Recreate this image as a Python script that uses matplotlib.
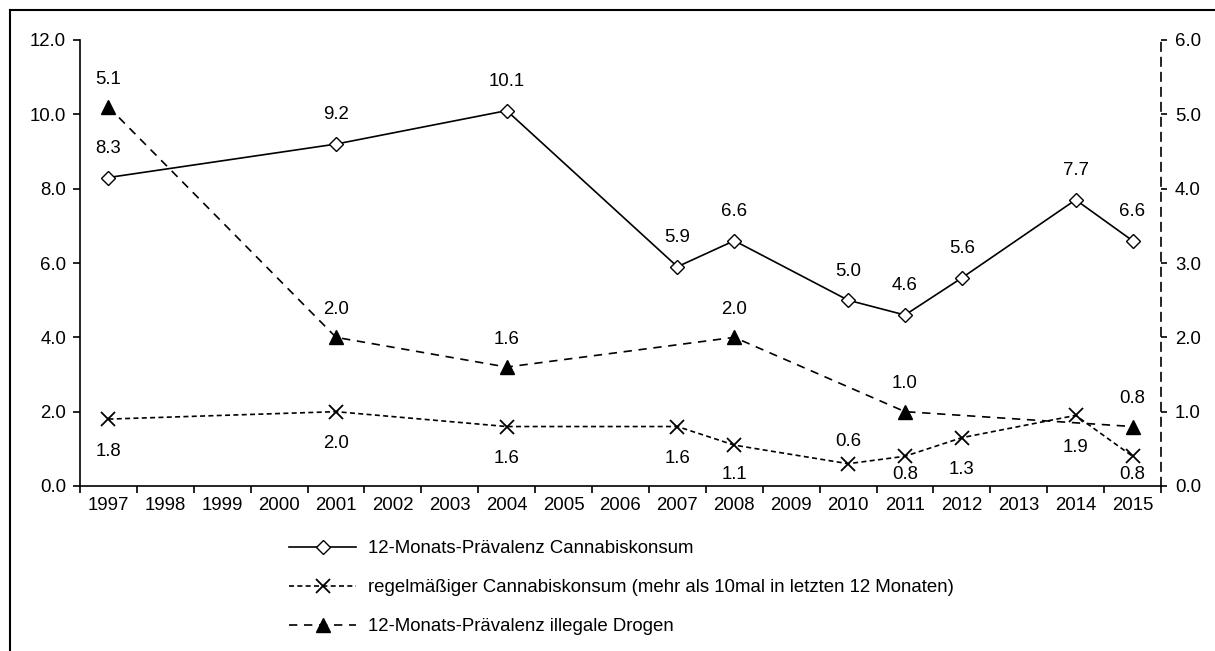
import matplotlib
matplotlib.use("Agg")
import matplotlib.pyplot as plt
from matplotlib.lines import Line2D

plt.rcParams['font.family'] = ['Liberation Sans', 'DejaVu Sans']

# ───────── Data ─────────────────────────────────────────────────────
years = [str(y) for y in range(1997, 2016)]

cannabis_years  = [1997, 2001, 2004, 2007, 2008, 2010, 2011, 2012, 2014, 2015]
cannabis_values = [8.3, 9.2, 10.1, 5.9, 6.6, 5.0, 4.6, 5.6, 7.7, 6.6]

regular_years  = [1997, 2001, 2004, 2007, 2008, 2010, 2011, 2012, 2014, 2015]
regular_values = [1.8, 2.0, 1.6, 1.6, 1.1, 0.6, 0.8, 1.3, 1.9, 0.8]

drugs_years  = [1997, 2001, 2004, 2008, 2011, 2015]
drugs_values = [5.1, 2.0, 1.6, 2.0, 1.0, 0.8]

labels = [
    '12-Monats-Prävalenz Cannabiskonsum',
    'regelmäßiger Cannabiskonsum (mehr als 10mal in letzten 12 Monaten)',
    '12-Monats-Prävalenz illegale Drogen',
]

# ───────── Plot settings ────────────────────────────────────────────
FS = 13.4
W, H = 1215, 651


def xpos(yrs):
    return [years.index(str(y)) for y in yrs]


fig = plt.figure(figsize=(W / 100, H / 100), dpi=100)
ax = fig.add_axes([80 / W, 1 - 486 / H, (1161 - 80) / W, (486 - 40) / H])
ax2 = ax.twinx()

l1, = ax.plot(xpos(cannabis_years), cannabis_values, '-', color='black', lw=1.2,
              marker='D', ms=7.5, mfc='white', mec='black', mew=1.0, zorder=3)
l2, = ax.plot(xpos(regular_years), regular_values, color='black', lw=1.2,
              ls=(0, (3, 2)), marker='x', ms=10, mew=1.3, zorder=3)
l3, = ax2.plot(xpos(drugs_years), drugs_values, color='black', lw=1.2,
               ls=(0, (5, 4)), marker='^', ms=10.5, mfc='black', mec='black', zorder=3)

# data labels
for x, v in zip(xpos(cannabis_years), cannabis_values):
    ax.annotate(f'{v:.1f}', (x, v), xytext=(0, 21), textcoords='offset points',
                ha='center', va='center', fontsize=FS)
for yr, x, v in zip(regular_years, xpos(regular_years), regular_values):
    if yr == 2010:
        ax.annotate(f'{v:.1f}', (x, v), xytext=(0, 16), textcoords='offset points',
                    ha='center', va='center', fontsize=FS)
    else:
        # labels below the marker, kept inside the plot area
        ax.text(x, max(v - 0.86, 0.30), f'{v:.1f}', ha='center', va='center', fontsize=FS)
for x, v in zip(xpos(drugs_years), drugs_values):
    ax2.annotate(f'{v:.1f}', (x, v), xytext=(0, 20), textcoords='offset points',
                 ha='center', va='center', fontsize=FS)

# axes
ax.set_xlim(-0.5, len(years) - 0.5)
ax.set_ylim(0, 12)
ax2.set_ylim(0, 6)
ax.set_yticks([0, 2, 4, 6, 8, 10, 12])
ax.set_yticklabels([f'{v:.1f}' for v in [0, 2, 4, 6, 8, 10, 12]])
ax2.set_yticks([0, 1, 2, 3, 4, 5, 6])
ax2.set_yticklabels([f'{v:.1f}' for v in [0, 1, 2, 3, 4, 5, 6]])

ax.set_xticks(range(len(years)))
ax.set_xticklabels(years)
ax.set_xticks([i - 0.5 for i in range(len(years) + 1)], minor=True)
ax.tick_params(axis='x', which='major', length=0, pad=8, labelsize=FS)
ax.tick_params(axis='x', which='minor', length=5, width=1.2, direction='out')
ax.tick_params(axis='y', length=5, width=1.2, labelsize=FS, pad=5)
ax2.tick_params(axis='y', length=4, width=1.2, labelsize=FS, pad=6)

for a in (ax, ax2):
    a.spines['top'].set_visible(False)
ax.spines['right'].set_visible(False)
ax2.spines['left'].set_visible(False)
ax2.spines['bottom'].set_visible(False)
ax.spines['left'].set_linewidth(1.2)
ax.spines['bottom'].set_linewidth(1.2)
ax2.spines['right'].set_linewidth(1.2)
ax2.spines['right'].set_linestyle((0, (5, 4)))

# legend below the plot
fig.legend([l1, l2, l3], labels, loc='upper left', bbox_to_anchor=(282 / W, 1 - 533 / H),
           frameon=False, fontsize=FS, handlelength=3.6, labelspacing=1.18,
           handletextpad=0.6, borderaxespad=0)

# outer frame: left and top edges only
fig.add_artist(Line2D([10 / W, 10 / W], [0, 1 - 10 / H], color='black', lw=1.5,
                      transform=fig.transFigure))
fig.add_artist(Line2D([10 / W, 1], [1 - 10 / H, 1 - 10 / H], color='black', lw=1.5,
                      transform=fig.transFigure))

fig.savefig('out.png', dpi=100)
